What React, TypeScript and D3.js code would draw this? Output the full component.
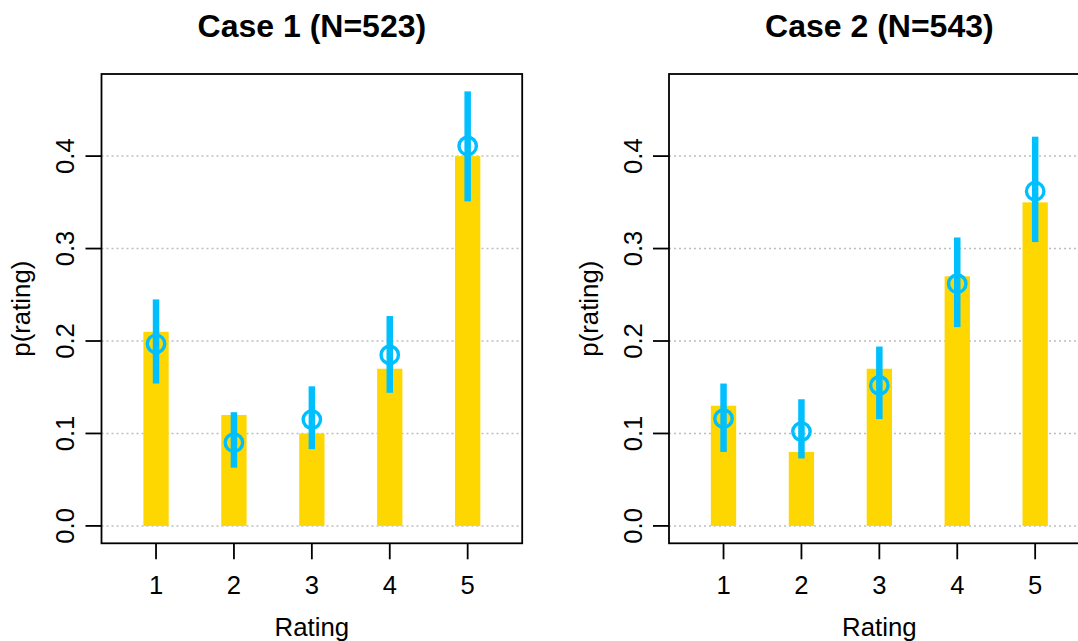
import React from 'react';
import { scaleLinear } from 'd3';

const width = 1078;
const height = 641;
const panelWidth = 567.5;
const margins = { top: 74, bottom: 97.7, left: 101.5, right: 45.3 };
const font = '"Liberation Sans", Arial, Helvetica, sans-serif';

// data
const ratings = [1, 2, 3, 4, 5];
const yTicks = [0, 0.1, 0.2, 0.3, 0.4];
const titles = ['Case 1 (N=523)', 'Case 2 (N=543)'];

const case1Observed = [0.21, 0.12, 0.1, 0.17, 0.4];
const case1Mean = [0.197, 0.09, 0.115, 0.185, 0.411];
const case1Lower = [0.154, 0.063, 0.083, 0.144, 0.351];
const case1Upper = [0.245, 0.123, 0.151, 0.227, 0.47];

const case2Observed = [0.13, 0.08, 0.17, 0.27, 0.35];
const case2Mean = [0.116, 0.102, 0.152, 0.262, 0.362];
const case2Lower = [0.08, 0.073, 0.1155, 0.215, 0.307];
const case2Upper = [0.154, 0.137, 0.194, 0.312, 0.421];

const panels = [
  { title: titles[0], observed: case1Observed, mean: case1Mean, lower: case1Lower, upper: case1Upper },
  { title: titles[1], observed: case2Observed, mean: case2Mean, lower: case2Lower, upper: case2Upper },
];

const barColor = '#FFD700';
const pointColor = '#00BFFF';

// R style 4% padding around xlim c(0.5,5.5) and ylim c(0,0.47)
const xScale = scaleLinear()
  .domain([0.3, 5.7])
  .range([margins.left, panelWidth - margins.right]);

const yScale = scaleLinear()
  .domain([-0.0188, 0.4888])
  .range([height - margins.bottom, margins.top]);

const Panel = ({ p, offset }: { p: typeof panels[0]; offset: number }) => {
  const x0 = xScale.range()[0];
  const x1 = xScale.range()[1];
  const yb = yScale.range()[0];
  const yt = yScale.range()[1];
  const barW = xScale(1.325) - xScale(1);
  const cx = (x0 + x1) / 2;
  const cy = (yb + yt) / 2;
  return (
    <g transform={`translate(${offset},0)`}>
      {yTicks.map((t) => (
        <line key={'g' + t} x1={x0} x2={x1} y1={yScale(t)} y2={yScale(t)}
          stroke="#bdbdbd" strokeWidth={1.5} strokeDasharray="2,3" />
      ))}
      {ratings.map((r, i) => (
        <rect key={'b' + r} x={xScale(r) - barW / 2} y={yScale(p.observed[i])}
          width={barW} height={yScale(0) - yScale(p.observed[i])} fill={barColor} />
      ))}
      {ratings.map((r, i) => (
        <g key={'e' + r}>
          <line x1={xScale(r)} x2={xScale(r)} y1={yScale(p.lower[i])} y2={yScale(p.upper[i])}
            stroke={pointColor} strokeWidth={6.5} />
          <circle cx={xScale(r)} cy={yScale(p.mean[i])} r={8.7} fill="none"
            stroke={pointColor} strokeWidth={3.4} />
        </g>
      ))}
      <rect x={x0} y={yt} width={x1 - x0} height={yb - yt} fill="none" stroke="#000" strokeWidth={1.8} />
      {yTicks.map((t) => (
        <g key={'y' + t}>
          <line x1={x0 - 16} x2={x0} y1={yScale(t)} y2={yScale(t)} stroke="#000" strokeWidth={1.8} />
          <text transform={`translate(${x0 - 27.5},${yScale(t)}) rotate(-90)`} textAnchor="middle"
            fontSize={25.6} fontFamily={font}>{t.toFixed(1)}</text>
        </g>
      ))}
      {ratings.map((r) => (
        <g key={'x' + r}>
          <line x1={xScale(r)} x2={xScale(r)} y1={yb} y2={yb + 16} stroke="#000" strokeWidth={1.8} />
          <text x={xScale(r)} y={594} textAnchor="middle" fontSize={25.6} fontFamily={font}>{r}</text>
        </g>
      ))}
      <text x={cx} y={635.5} textAnchor="middle" fontSize={25.8} fontFamily={font}>Rating</text>
      <text transform={`translate(30,${cy}) rotate(-90)`} textAnchor="middle" fontSize={25.8}
        fontFamily={font}>p(rating)</text>
      <text x={cx} y={37} textAnchor="middle" fontSize={32} fontWeight="bold" fontFamily={font}>{p.title}</text>
    </g>
  );
};

export default function App() {
  return (
    <svg width={width} height={height} style={{ position: 'absolute', left: 0, top: 0, background: '#fff' }}>
      <rect width={width} height={height} fill="#fff" />
      {panels.map((p, i) => (
        <Panel key={i} p={p} offset={i * panelWidth} />
      ))}
    </svg>
  );
}
